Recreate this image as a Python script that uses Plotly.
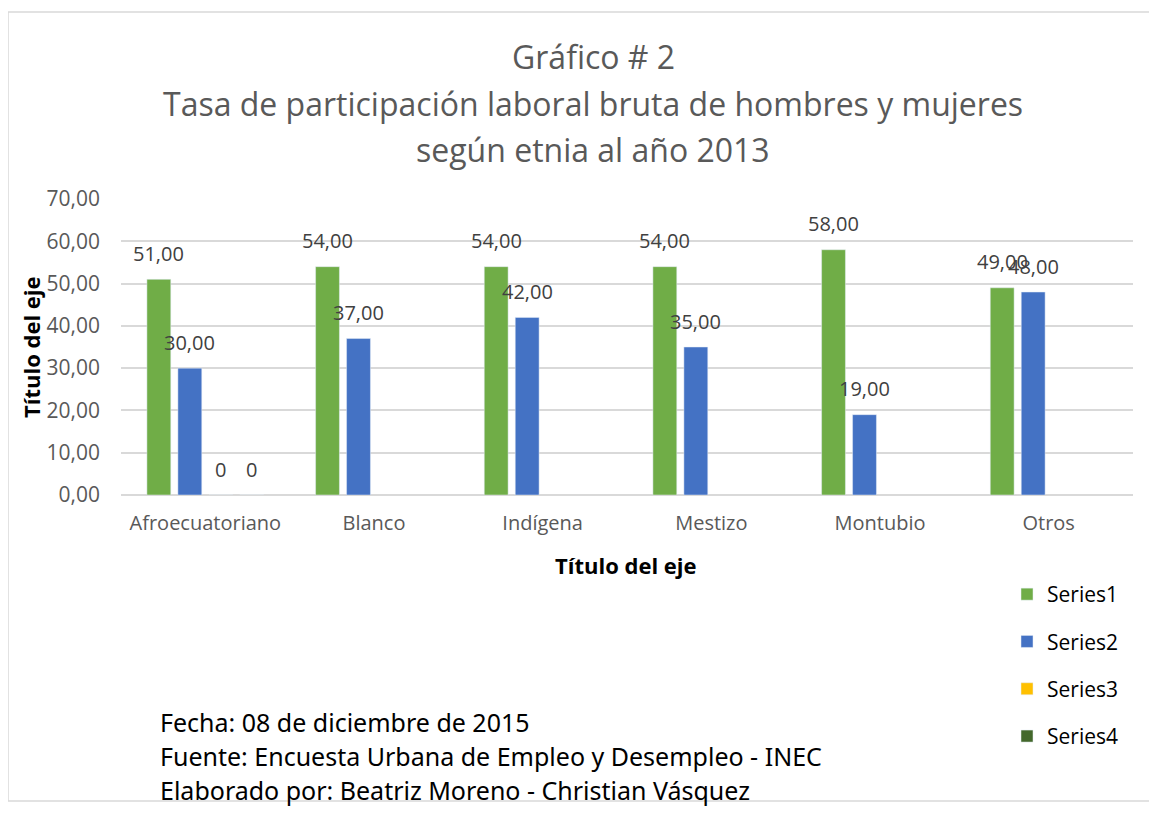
import plotly.graph_objects as go

categorias = ["Afroecuatoriano", "Blanco", "Indígena", "Mestizo", "Montubio", "Otros"]
series1 = [51, 54, 54, 54, 58, 49]
series2 = [30, 37, 42, 35, 19, 48]
series3 = [0, None, None, None, None, None]
series4 = [0, None, None, None, None, None]
nombres = ["Series1", "Series2", "Series3", "Series4"]
colores = ["#70ad47", "#4472c4", "#ffc000", "#43682b"]
titulo = ["Gráfico # 2",
          "Tasa de participación laboral bruta de hombres y mujeres",
          "según etnia al año 2013"]
notas = ["Fecha: 08 de diciembre de 2015",
         "Fuente: Encuesta Urbana de Empleo y Desempleo - INEC",
         "Elaborado por: Beatriz Moreno - Christian Vásquez"]

# la pagina tiene 8px de margen, se descuentan
OFF = 8
W, H = 1157 - OFF, 816 - OFF
L, R, T, B = 121 - OFF, 24, 199 - OFF, 321
PW, PH = W - L - R, H - T - B
FONT = "Open Sans"


def px(x):
    return (x - OFF - L) / PW


def py(y):
    return (H - B - (y - OFF)) / PH


def etiqueta(v, serie):
    if v is None:
        return None
    if serie >= 2:
        return f"{v:g}"
    return f"{v:.2f}".replace(".", ",")


fig = go.Figure()
datos = [series1, series2, series3, series4]
for i, vals in enumerate(datos):
    fig.add_trace(go.Bar(x=categorias, y=vals, name=nombres[i],
                         marker=dict(color=colores[i]), legendgroup=str(i),
                         hoverinfo="skip"))

# etiquetas de datos (arriba de cada barra, como en Excel)
slot = PW / len(categorias) * (1 - 0.265) / 4
for i, vals in enumerate(datos):
    for c, v in zip(categorias, vals):
        t = etiqueta(v, i)
        if t is None:
            continue
        fig.add_annotation(x=c, y=v, xref="x", yref="y", text=t, showarrow=False,
                           xshift=(i - 1.5) * slot, yshift=26,
                           font=dict(family=FONT, size=20, color="#404040"))

# titulo
for k, linea in enumerate(titulo):
    fig.add_annotation(x=px(593), y=py(57 + 46 * k), xref="paper", yref="paper",
                       text=linea, showarrow=False, xanchor="center", yanchor="middle",
                       font=dict(family=FONT, size=32, color="#595959"))

# notas al pie
for k, linea in enumerate(notas):
    fig.add_annotation(x=px(158), y=py(722 + 34 * k), xref="paper", yref="paper",
                       text=linea, showarrow=False, xanchor="left", yanchor="middle",
                       font=dict(family="Noto Sans", size=25, color="#000000"))

# titulos de ejes
fig.add_annotation(x=px(626), y=py(565), xref="paper", yref="paper",
                   text="<b>Título del eje</b>", showarrow=False,
                   xanchor="center", yanchor="middle",
                   font=dict(family=FONT, size=22, color="#000000"))
fig.add_annotation(x=px(31), y=py(347), xref="paper", yref="paper",
                   text="<b>Título del eje</b>", showarrow=False, textangle=-90,
                   xanchor="center", yanchor="middle",
                   font=dict(family=FONT, size=22, color="#000000"))

# borde del grafico
fig.add_shape(type="rect", xref="paper", yref="paper",
              x0=px(8), x1=px(1175), y0=py(801), y1=py(12),
              line=dict(color="#d9d9d9", width=1.5), layer="below")

fig.update_xaxes(showline=False, ticks="", ticklabelstandoff=14,
                 tickfont=dict(family=FONT, size=20, color="#595959"))
fig.update_yaxes(range=[0, 70], dtick=10, tickformat=".2f", showline=False,
                 gridcolor="#d9d9d9", gridwidth=1.5, zeroline=True, zerolinecolor="#d9d9d9",
                 zerolinewidth=1.5, ticks="", ticklabelstandoff=20,
                 tickfont=dict(family=FONT, size=21, color="#595959"))

fig.update_layout(width=W, height=H, barmode="group", bargap=0.265, bargroupgap=0.23,
                  separators=",.", plot_bgcolor="white", paper_bgcolor="white",
                  margin=dict(l=L, r=R, t=T, b=B, autoexpand=False),
                  legend=dict(x=px(1007), y=py(574), xanchor="left", yanchor="top",
                              font=dict(family=FONT, size=21, color="#000000"),
                              tracegroupgap=17, itemwidth=30),
                  showlegend=True)

fig.write_html("out.html")
